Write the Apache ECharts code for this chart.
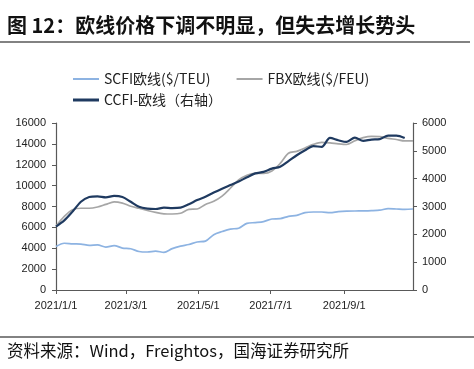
<!DOCTYPE html>
<html><head><meta charset="utf-8">
<script src="https://cdn.jsdelivr.net/npm/echarts@6/dist/echarts.min.js"></script>
<style>html,body{margin:0;padding:0;background:#fff}#c{width:474px;height:369px}</style>
</head><body><div id="c"></div>
<script>
const dates = ['2021-01-01','2021-01-08','2021-01-15','2021-01-22','2021-01-29','2021-02-05','2021-02-12','2021-02-19','2021-02-26',
'2021-03-05','2021-03-12','2021-03-19','2021-03-26','2021-04-02','2021-04-09','2021-04-16','2021-04-23','2021-04-30',
'2021-05-07','2021-05-14','2021-05-21','2021-05-28','2021-06-04','2021-06-11','2021-06-18','2021-06-25',
'2021-07-02','2021-07-09','2021-07-16','2021-07-23','2021-07-30','2021-08-06','2021-08-13','2021-08-20','2021-08-27',
'2021-09-03','2021-09-10','2021-09-17','2021-09-24','2021-10-01','2021-10-08','2021-10-15','2021-10-22','2021-10-29'];
const scfi = [4170,4480,4420,4400,4280,4320,4110,4260,4020,3950,3690,3640,3730,3600,3960,4200,4360,4600,4680,5300,
5600,5840,5920,6380,6457,6553,6800,6830,7060,7157,7420,7475,7475,7412,7500,7550,7571,7580,7603,7650,7794,7762,7730,7762];
const fbx = [6120,7050,7680,7830,7830,7950,8200,8450,8330,8030,7830,7620,7430,7300,7280,7350,7730,7760,8200,8500,
9000,9750,10550,11000,11170,11170,11400,12124,13100,13280,13600,13950,14150,14100,14000,13940,14300,14600,14728,14700,14530,14420,14283,14283];
const ccfi = [2280,2500,2820,3170,3340,3365,3330,3380,3340,3170,2990,2925,2910,2960,2945,2960,3080,3230,3350,3500,
3640,3770,3900,4050,4190,4245,4360,4425,4630,4840,5020,5170,5141,5463,5380,5320,5476,5360,5404,5420,5550,5550,5464];
const xTicks = ['2021-01-01','2021-03-01','2021-05-01','2021-07-01','2021-09-01'];
const xMin = '2021-01-01', xMax = '2021-10-29';
const seriesNames = ['SCFI欧线($/TEU)','FBX欧线($/FEU)','CCFI-欧线（右轴）'];
const colors = ['#8db3e2','#a6a6a6','#1f3a60'];

const ts = (s) => Date.parse(s + 'T00:00:00Z');
const pair = (vals) => vals.map((v,i)=>[ts(dates[i]), v]);
const tickTs = xTicks.map(ts);
const chart = echarts.init(document.getElementById('c'), null, {renderer:'canvas'});
const axisFont = {fontFamily:'Liberation Sans, Arial', fontSize:11, color:'#222'};
const axisLine = {show:true, lineStyle:{color:'#595959', width:1.2}};
const plain = (v) => String(v);
chart.setOption({
  animation:false,
  color: colors,
  graphic:[
    {type:'text', left:7, top:15, style:{text:'图 12：欧线价格下调不明显，但失去增长势头', font:'bold 20px "Noto Sans CJK SC"', fill:'#111'}},
    {type:'line', shape:{x1:0,y1:42,x2:470,y2:42}, style:{stroke:'#595959', lineWidth:1.5}},
    {type:'line', shape:{x1:0,y1:337,x2:474,y2:337}, style:{stroke:'#595959', lineWidth:1.5}},
    {type:'text', left:7, top:342, style:{text:'资料来源：Wind，Freightos，国海证券研究所', font:'16.5px "Noto Sans CJK SC"', fill:'#111'}}
  ],
  legend:[
    {data:[seriesNames[0], seriesNames[1]], left:68, top:67, itemWidth:26, itemHeight:2, itemGap:26, icon:'rect',
     textStyle:{fontFamily:'"Noto Sans CJK SC"', fontSize:14, color:'#222'}},
    {data:[seriesNames[2]], left:68, top:88, itemWidth:26, itemHeight:3, icon:'rect',
     textStyle:{fontFamily:'"Noto Sans CJK SC"', fontSize:14, color:'#222'}}
  ],
  grid:{left:56, right:61, top:123, bottom:79, containLabel:false},
  xAxis:{type:'value', min:ts(xMin), max:ts(xMax),
    axisLine:axisLine, splitLine:{show:false},
    axisTick:{show:true, length:4, lineStyle:{color:'#595959'}, customValues: tickTs},
    axisLabel:Object.assign({customValues: tickTs, margin:10, hideOverlap:false,
      formatter:(v)=>{const d=new Date(v);return d.getUTCFullYear()+'/'+(d.getUTCMonth()+1)+'/'+d.getUTCDate();}}, axisFont)
  },
  yAxis:[
    {type:'value', min:0, max:16000, interval:2000, axisLine:axisLine, splitLine:{show:false},
     axisTick:{show:true, length:4, lineStyle:{color:'#595959'}}, axisLabel:Object.assign({margin:10, formatter:plain}, axisFont)},
    {type:'value', min:0, max:6000, interval:1000, position:'right', axisLine:axisLine, splitLine:{show:false},
     axisTick:{show:true, length:4, lineStyle:{color:'#595959'}}, axisLabel:Object.assign({margin:9, formatter:plain}, axisFont)}
  ],
  series:[
    {name:seriesNames[0], type:'line', data:pair(scfi), yAxisIndex:0, symbol:'none', smooth:0.3, lineStyle:{width:1.7, color:colors[0]}},
    {name:seriesNames[1], type:'line', data:pair(fbx), yAxisIndex:0, symbol:'none', smooth:0.3, lineStyle:{width:1.7, color:colors[1]}},
    {name:seriesNames[2], type:'line', data:pair(ccfi), yAxisIndex:1, symbol:'none', smooth:0.3, lineStyle:{width:2.2, color:colors[2]}}
  ]
});
</script></body></html>
